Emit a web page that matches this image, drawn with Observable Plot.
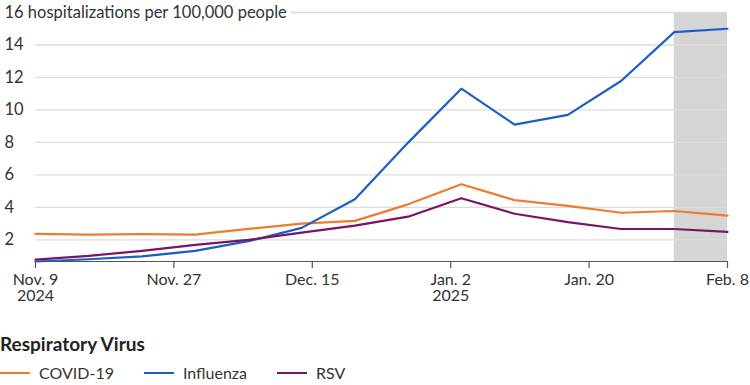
<!DOCTYPE html>
<html>
<head>
<meta charset="utf-8">
<script src="https://cdn.jsdelivr.net/npm/d3@7"></script>
<script src="https://cdn.jsdelivr.net/npm/@observablehq/plot@0.6"></script>
<style>
  html, body { margin: 0; padding: 0; background: #fff; }
  body { width: 750px; height: 385px; overflow: hidden; font-family: Lato, "Open Sans", sans-serif; color: #333; }
  #legend { position: absolute; left: 0; top: 332px; }
  #legend .title { font-weight: 700; font-size: 19px; color: #222; margin: 0 0 8px 0; }
  #legend .items { display: flex; align-items: center; font-size: 16px; color: #333; }
  #legend .item { display: flex; align-items: center; margin-right: 30px; }
  #legend .sw { width: 30px; height: 2px; margin-right: 9px; }
</style>
</head>
<body>
<div id="chart"></div>
<div id="legend"></div>
<script>
// ---- data ----
const weeks = ["2024-11-09","2024-11-16","2024-11-23","2024-11-30","2024-12-07","2024-12-14","2024-12-21","2024-12-28","2025-01-04","2025-01-11","2025-01-18","2025-01-25","2025-02-01","2025-02-08"];
const covid = [2.37, 2.33, 2.35, 2.33, 2.68, 3.00, 3.17, 4.19, 5.43, 4.45, 4.09, 3.67, 3.78, 3.49];
const influenza = [0.67, 0.81, 0.98, 1.32, 1.92, 2.74, 4.50, 7.99, 11.31, 9.10, 9.70, 11.78, 14.79, 15.00];
const rsv = [0.79, 1.02, 1.33, 1.69, 2.00, 2.45, 2.88, 3.43, 4.56, 3.61, 3.09, 2.67, 2.67, 2.49];
const seriesNames = ["COVID-19", "Influenza", "RSV"];
const seriesColors = ["#ee7b2f", "#1b5ec6", "#7b1467"];
const shadedPeriod = ["2025-02-01", "2025-02-08"];
const yTicks = [2, 4, 6, 8, 10, 12, 14, 16];
const yTopLabel = "16 hospitalizations per 100,000 people";
const xTickLabels = ["Nov. 9\n2024", "Nov. 27", "Dec. 15", "Jan. 2\n2025", "Jan. 20", "Feb. 8"];
const legendTitle = "Respiratory Virus";

// ---- build ----
const parse = d3.utcParse("%Y-%m-%d");
const seriesValues = [covid, influenza, rsv];
const rows = [];
seriesNames.forEach((name, s) => weeks.forEach((w, i) => rows.push({date: parse(w), value: seriesValues[s][i], series: name})));
const x0 = parse(weeks[0]), x1 = parse(weeks[weeks.length - 1]);
const yMin = d3.min(rows, d => d.value);
const xTicks = xTickLabels.map((_, i) => new Date(+x0 + i * (x1 - x0) / (xTickLabels.length - 1)));
const labelFor = new Map(xTicks.map((t, i) => [+t, xTickLabels[i]]));

const chart = Plot.plot({
  width: 750,
  height: 312,
  marginTop: 12,
  marginBottom: 51,
  marginLeft: 35,
  marginRight: 23,
  style: {fontFamily: "Lato, 'Open Sans', sans-serif", background: "#fff"},
  x: {type: "utc", domain: [x0, x1], axis: null},
  y: {domain: [yMin, 16], axis: null},
  color: {domain: seriesNames, range: seriesColors},
  marks: [
    Plot.rect([shadedPeriod], {x1: d => parse(d[0]), x2: d => parse(d[1]), y1: yMin, y2: 16, fill: "#d5d5d5"}),
    Plot.ruleY(yTicks, {x1: x0, x2: x1, stroke: "#dcdcdc", strokeWidth: 1.3}),
    Plot.text(yTicks, {
      y: d => d, frameAnchor: "left", dx: -31, textAnchor: "start",
      text: d => d === 16 ? yTopLabel : String(d),
      fontSize: 16.5, fill: "#333", stroke: "white", strokeWidth: 9, paintOrder: "stroke"
    }),
    Plot.ruleY([yMin], {x1: x0, x2: x1, stroke: "#555", strokeWidth: 1.2}),
    Plot.axisX(xTicks, {
      tickSize: 7, tickPadding: 5, stroke: "#555", strokeWidth: 1.2,
      tickFormat: d => labelFor.get(+d), fontSize: 16, fill: "#333", lineHeight: 1.0, label: null
    }),
    Plot.lineY(rows, {x: "date", y: "value", stroke: "series", z: "series", strokeWidth: 2.2})
  ]
});
document.getElementById("chart").appendChild(chart);

// legend
const lg = document.getElementById("legend");
const t = document.createElement("div"); t.className = "title"; t.textContent = legendTitle; lg.appendChild(t);
const items = document.createElement("div"); items.className = "items";
seriesNames.forEach((n, i) => {
  const it = document.createElement("div"); it.className = "item";
  const sw = document.createElement("span"); sw.className = "sw"; sw.style.background = seriesColors[i];
  const lb = document.createElement("span"); lb.textContent = n;
  it.appendChild(sw); it.appendChild(lb); items.appendChild(it);
});
lg.appendChild(items);
</script>
</body>
</html>
